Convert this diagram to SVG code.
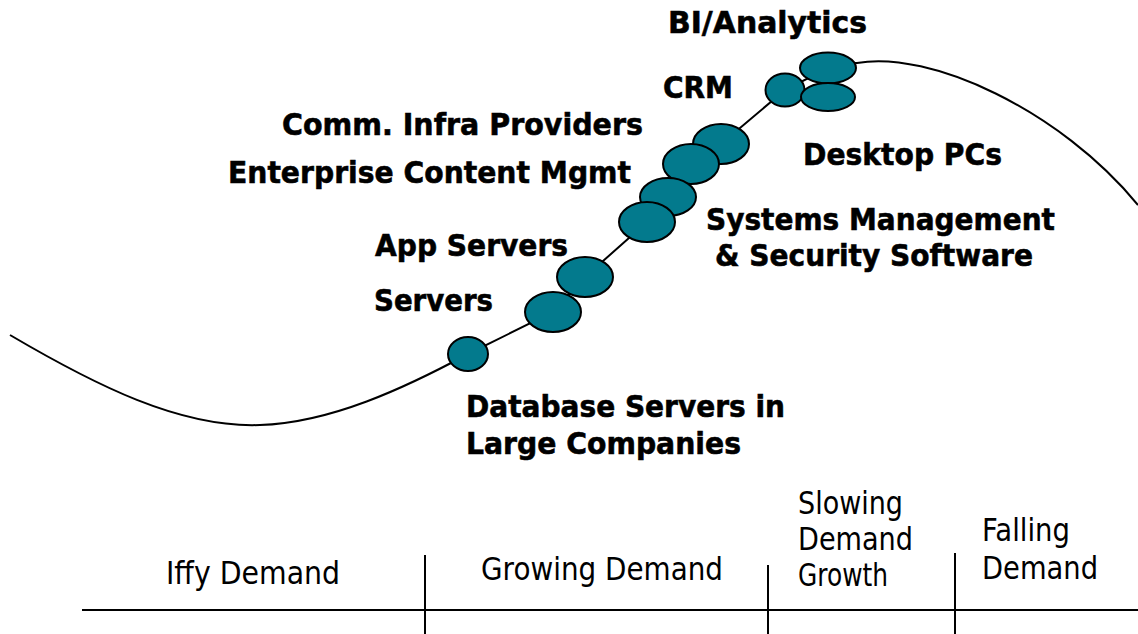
<svg xmlns="http://www.w3.org/2000/svg" width="1138" height="634" viewBox="0 0 1138 634">
<style>
.curve{fill:none;stroke:#000;stroke-width:2}
.axis{fill:none;stroke:#000;stroke-width:2}
.dot{fill:#037A8D;stroke:#000;stroke-width:2}
.lbl{font-family:"DejaVu Sans",Verdana,sans-serif;font-weight:bold;font-size:31px;fill:#000;stroke:#000;stroke-width:0.6}
.phase{font-family:"DejaVu Sans",Tahoma,sans-serif;font-size:32px;fill:#000}
</style>
<rect width="1138" height="634" fill="#fff"/>
<g id="connectors">
<path class="curve" d="M10,335 C95,385 180,428 260,425 C330,423 405,388 468,354 L553,312 L585,277 L647,222 L721,144 L785,90 L828,68 C845,62 850,63 857,63 C930,50 1060,110 1138,205"/>
</g>
<g id="axis">
<line class="axis" x1="82" y1="610" x2="1138" y2="610"/>
<line class="axis" x1="425" y1="555" x2="425" y2="634"/>
<line class="axis" x1="768" y1="565" x2="768" y2="634"/>
<line class="axis" x1="955" y1="553" x2="955" y2="634"/>
</g>
<g id="node-db"><ellipse class="dot" cx="468" cy="354" rx="20" ry="17"/></g>
<g id="node-appservers"><ellipse class="dot" cx="585" cy="277" rx="28" ry="20"/></g>
<g id="node-servers"><ellipse class="dot" cx="553" cy="312" rx="28" ry="20"/></g>
<g id="node-comm"><ellipse class="dot" cx="721" cy="144" rx="28" ry="20"/></g>
<g id="node-ecm"><ellipse class="dot" cx="691" cy="164" rx="28" ry="20"/></g>
<g id="node-secsw"><ellipse class="dot" cx="668" cy="197" rx="28" ry="19"/></g>
<g id="node-sysmgmt"><ellipse class="dot" cx="647" cy="222" rx="28" ry="20"/></g>
<g id="node-crm"><ellipse class="dot" cx="785" cy="90" rx="19.5" ry="16.5"/></g>
<g id="node-bi"><ellipse class="dot" cx="828" cy="68" rx="28" ry="15.5"/></g>
<g id="node-desktop"><ellipse class="dot" cx="828" cy="97" rx="27" ry="14"/></g>
<g id="labels">
<text class="lbl" x="668" y="33" textLength="199" lengthAdjust="spacingAndGlyphs">BI/Analytics</text>
<text class="lbl" x="663" y="98" textLength="70" lengthAdjust="spacingAndGlyphs">CRM</text>
<text class="lbl" x="282" y="135" textLength="361" lengthAdjust="spacingAndGlyphs">Comm. Infra Providers</text>
<text class="lbl" x="228" y="183" textLength="403" lengthAdjust="spacingAndGlyphs">Enterprise Content Mgmt</text>
<text class="lbl" x="803" y="165" textLength="199" lengthAdjust="spacingAndGlyphs">Desktop PCs</text>
<text class="lbl" x="706" y="230" textLength="349" lengthAdjust="spacingAndGlyphs">Systems Management</text>
<text class="lbl" x="715" y="266" textLength="318" lengthAdjust="spacingAndGlyphs">&amp; Security Software</text>
<text class="lbl" x="375" y="256" textLength="193" lengthAdjust="spacingAndGlyphs">App Servers</text>
<text class="lbl" x="374" y="311" textLength="119" lengthAdjust="spacingAndGlyphs">Servers</text>
<text class="lbl" x="466" y="417" textLength="319" lengthAdjust="spacingAndGlyphs">Database Servers in</text>
<text class="lbl" x="466" y="454" textLength="275" lengthAdjust="spacingAndGlyphs">Large Companies</text>
<text class="phase" x="166" y="584" textLength="174" lengthAdjust="spacingAndGlyphs">Iffy Demand</text>
<text class="phase" x="481" y="580" textLength="242" lengthAdjust="spacingAndGlyphs">Growing Demand</text>
<text class="phase" x="798" y="514" textLength="105" lengthAdjust="spacingAndGlyphs">Slowing</text>
<text class="phase" x="798" y="550" textLength="115" lengthAdjust="spacingAndGlyphs">Demand</text>
<text class="phase" x="798" y="586" textLength="90" lengthAdjust="spacingAndGlyphs">Growth</text>
<text class="phase" x="982" y="541" textLength="88" lengthAdjust="spacingAndGlyphs">Falling</text>
<text class="phase" x="982" y="579" textLength="116" lengthAdjust="spacingAndGlyphs">Demand</text>
</g>
</svg>
